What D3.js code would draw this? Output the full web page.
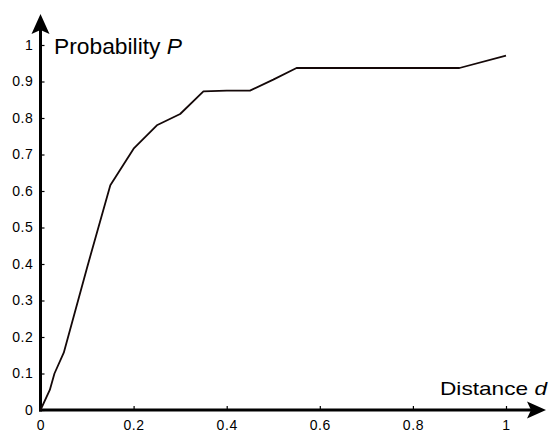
<!DOCTYPE html>
<html>
<head>
<meta charset="utf-8">
<script src="https://cdn.jsdelivr.net/npm/d3@7"></script>
<style>
  html, body { margin: 0; padding: 0; background: #fff; }
  svg { display: block; }
  text { font-family: "Liberation Sans", Arial, sans-serif; fill: #000; }
</style>
</head>
<body>
<svg id="chart" width="550" height="430"></svg>
<script>
const distance = [0, 0.02, 0.03, 0.05, 0.1, 0.15, 0.2, 0.25, 0.3, 0.35, 0.4, 0.45, 0.5, 0.55, 0.6, 0.65, 0.7, 0.75, 0.8, 0.85, 0.9, 1];
const probability = [0, 0.055, 0.1, 0.157, 0.39, 0.616, 0.716, 0.78, 0.811, 0.873, 0.875, 0.875, 0.905, 0.937, 0.937, 0.937, 0.937, 0.937, 0.937, 0.937, 0.937, 0.971];
const xTicks = [0, 0.2, 0.4, 0.6, 0.8, 1];
const xTickLabels = ["0", "0.2", "0.4", "0.6", "0.8", "1"];
const yTicks = [0, 0.1, 0.2, 0.3, 0.4, 0.5, 0.6, 0.7, 0.8, 0.9, 1];
const yTickLabels = ["0", "0.1", "0.2", "0.3", "0.4", "0.5", "0.6", "0.7", "0.8", "0.9", "1"];
const yTitle = "Probability ";
const yTitleVar = "P";
const xTitle = "Distance ";
const xTitleVar = "d";

const svg = d3.select("#chart");
const x = d3.scaleLinear().domain([0, 1]).range([40.5, 506]);
const y = d3.scaleLinear().domain([0, 1]).range([410, 45]);

// x axis ticks & labels
const gx = svg.append("g").attr("transform", `translate(0,${y(0)})`)
  .call(d3.axisBottom(x).tickValues(xTicks)
    .tickFormat((d, i) => xTickLabels[i])
    .tickSizeInner(-4).tickSizeOuter(0).tickPadding(10));
gx.select(".domain").remove();
gx.selectAll(".tick line").attr("stroke", "#000").attr("stroke-width", 1.2);
gx.selectAll(".tick text").style("font-size", "14px").attr("letter-spacing", "0.6px")
  .style("font-family", "'Liberation Sans', Arial, sans-serif");

// y axis ticks & labels
const gy = svg.append("g").attr("transform", `translate(${x(0)},0)`)
  .call(d3.axisLeft(y).tickValues(yTicks)
    .tickFormat((d, i) => yTickLabels[i])
    .tickSizeInner(-4).tickSizeOuter(0).tickPadding(7));
gy.select(".domain").remove();
gy.selectAll(".tick line").attr("stroke", "#000").attr("stroke-width", 1.2);
gy.selectAll(".tick text").style("font-size", "14px").attr("letter-spacing", "0.6px")
  .style("font-family", "'Liberation Sans', Arial, sans-serif");

// axis lines
const x0 = x(0), y0 = y(0);
svg.append("line").attr("x1", x0).attr("x2", x0).attr("y1", y0 + 1.5).attr("y2", 30)
  .attr("stroke", "#000").attr("stroke-width", 3);
svg.append("line").attr("x1", x0 - 1.5).attr("x2", 532).attr("y1", y0).attr("y2", y0)
  .attr("stroke", "#000").attr("stroke-width", 3);
// arrowheads
svg.append("path").attr("d", `M${x0},14 L${x0 + 9},34 L${x0},30 L${x0 - 9},34 Z`).attr("fill", "#000");
svg.append("path").attr("d", `M546,${y0} L527,${y0 - 8.5} L531,${y0} L527,${y0 + 8.5} Z`).attr("fill", "#000");

// data line
const line = d3.line().x((d, i) => x(distance[i])).y((d, i) => y(probability[i]));
svg.append("path").datum(probability).attr("d", line)
  .attr("fill", "none").attr("stroke", "#140808").attr("stroke-width", 1.8)
  .attr("stroke-linejoin", "round");

// titles
const ty = svg.append("text").attr("x", 54).attr("y", 53.5).style("font-size", "22px")
  .attr("textLength", 128).attr("lengthAdjust", "spacingAndGlyphs");
ty.append("tspan").text(yTitle);
ty.append("tspan").style("font-style", "italic").text(yTitleVar);

const tx = svg.append("text").attr("x", 440).attr("y", 395).style("font-size", "19px")
  .attr("textLength", 107).attr("lengthAdjust", "spacingAndGlyphs");
tx.append("tspan").text(xTitle);
tx.append("tspan").style("font-style", "italic").text(xTitleVar);
</script>
</body>
</html>
